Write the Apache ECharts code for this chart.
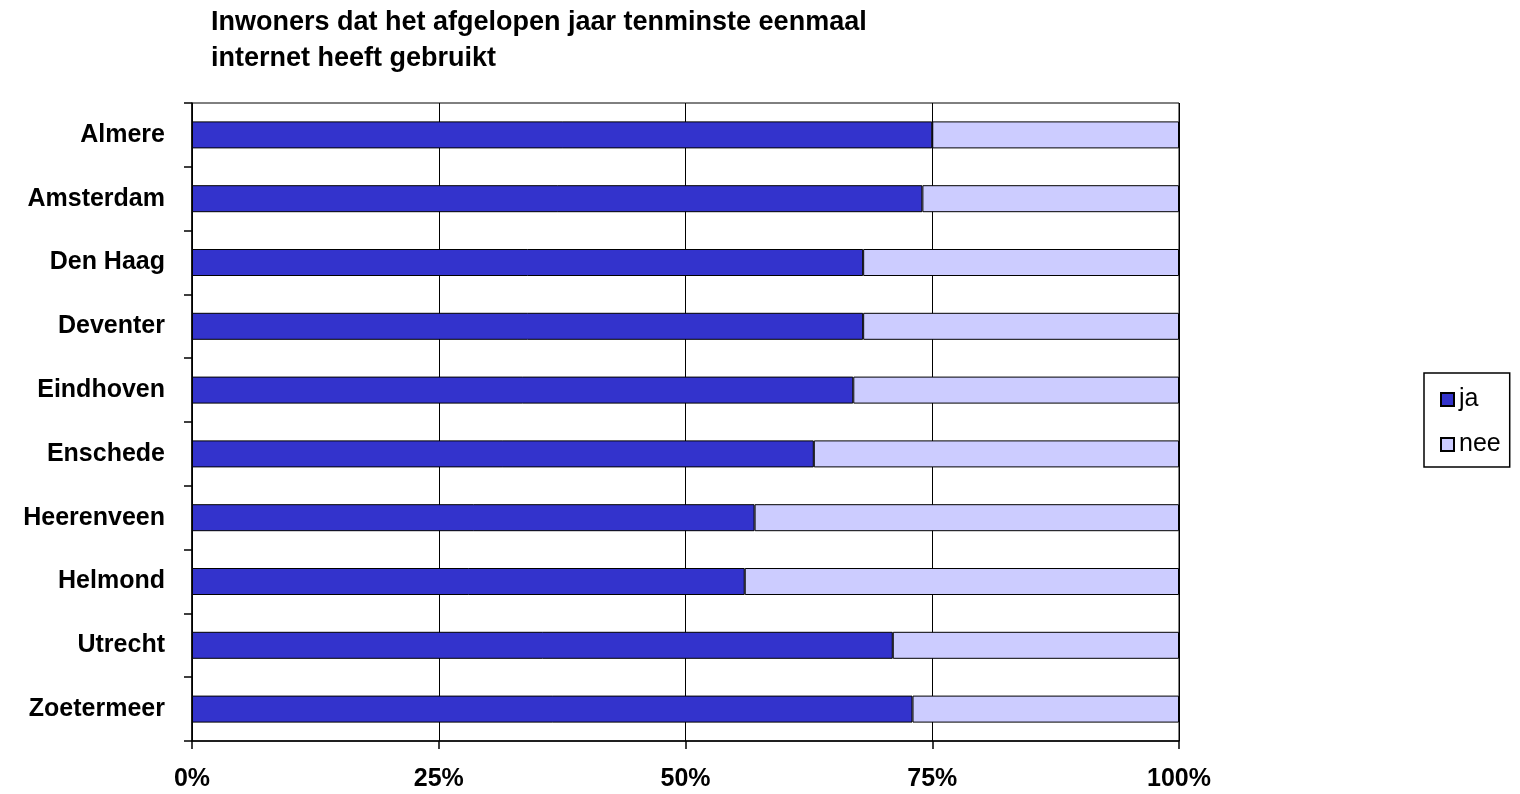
<!DOCTYPE html>
<html>
<head>
<meta charset="utf-8">
<script src="https://cdn.jsdelivr.net/npm/echarts@6/dist/echarts.min.js"></script>
<style>
  html, body { margin: 0; padding: 0; background: #fff; }
  #chart { width: 1520px; height: 794px; }
</style>
</head>
<body>
<div id="chart"></div>
<script>
// gemeenten (van boven naar beneden)
var cities = ['Almere', 'Amsterdam', 'Den Haag', 'Deventer', 'Eindhoven',
              'Enschede', 'Heerenveen', 'Helmond', 'Utrecht', 'Zoetermeer'];
// percentage ja / nee
var jaValues  = [75, 74, 68, 68, 67, 63, 57, 56, 71, 73];
var neeValues = [25, 26, 32, 32, 33, 37, 43, 44, 29, 27];
var xTicks = [0, 25, 50, 75, 100];

var font = '"Liberation Sans", Arial, sans-serif';
var chart = echarts.init(document.getElementById('chart'));

chart.setOption({
    animation: false,
    title: {
        text: 'Inwoners dat het afgelopen jaar tenminste eenmaal\ninternet heeft gebruikt',
        left: 206,
        top: 0,
        textStyle: { fontFamily: font, fontSize: 27, fontWeight: 'bold', color: '#000', lineHeight: 36 }
    },
    legend: {
        orient: 'vertical',
        left: 1424,
        top: 373,
        padding: [14, 9, 10, 16],
        itemGap: 20,
        itemWidth: 13,
        itemHeight: 13,
        icon: 'rect',
        borderColor: '#000',
        borderWidth: 1.5,
        textStyle: { fontFamily: font, fontSize: 25, color: '#000' },
        data: ['ja', 'nee']
    },
    grid: {
        left: 192,
        right: 341,
        top: 103,
        bottom: 53,
        show: true,
        borderColor: '#000',
        borderWidth: 1
    },
    xAxis: {
        type: 'value',
        min: xTicks[0],
        max: xTicks[xTicks.length - 1],
        interval: 25,
        axisLine: { show: true, lineStyle: { color: '#000', width: 1.5 } },
        axisTick: { show: true, length: 8, lineStyle: { color: '#000', width: 1.5 } },
        splitLine: { show: true, lineStyle: { color: '#000', width: 1 } },
        axisLabel: {
            margin: 26,
            fontFamily: font, fontSize: 25, fontWeight: 'bold', color: '#000',
            formatter: '{value}%'
        }
    },
    yAxis: {
        type: 'category',
        inverse: true,
        data: cities,
        axisLine: { show: true, lineStyle: { color: '#000', width: 1.5 } },
        axisTick: { show: true, length: 8, lineStyle: { color: '#000', width: 1.5 } },
        axisLabel: { margin: 27, fontFamily: font, fontSize: 25, fontWeight: 'bold', color: '#000' }
    },
    series: [
        {
            name: 'ja',
            type: 'bar',
            stack: 'totaal',
            barWidth: 27,
            data: jaValues,
            itemStyle: { color: '#3333CC', borderColor: '#000', borderWidth: 1 }
        },
        {
            name: 'nee',
            type: 'bar',
            stack: 'totaal',
            barWidth: 27,
            data: neeValues,
            itemStyle: { color: '#CCCCFF', borderColor: '#000', borderWidth: 1 }
        }
    ]
});
</script>
</body>
</html>
